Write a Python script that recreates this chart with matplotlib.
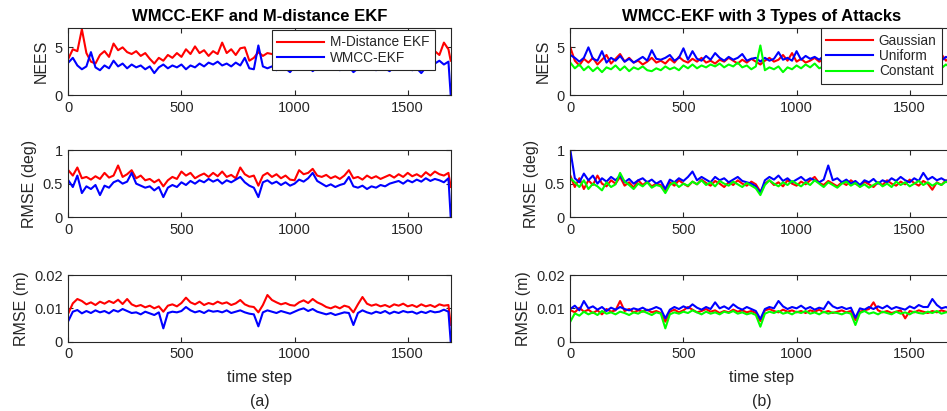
import numpy as np
import matplotlib
matplotlib.use("Agg")
import matplotlib.pyplot as plt

plt.rcParams["font.family"] = ["Liberation Sans", "DejaVu Sans"]

# time steps of the sampled values (every 20 steps, last sample at 1690)
steps = np.append(np.arange(0, 1681, 20), 1690)

# ---- (a) WMCC-EKF vs M-distance EKF ----
nees_md = [3.8, 4.8, 4.6, 6.9, 4.4, 3.5, 3.3, 4.2, 4.6, 4.0,
           5.4, 4.7, 5.0, 4.5, 4.3, 4.6, 4.1, 4.4, 3.8, 3.3,
           3.9, 3.6, 4.2, 3.9, 4.4, 4.0, 4.8, 4.3, 5.1, 4.4,
           4.7, 4.1, 4.6, 4.3, 5.5, 4.4, 4.8, 4.2, 4.9, 5.0,
           3.6, 3.9, 4.5, 4.1, 4.4, 4.3, 4.0, 4.5, 4.2, 4.4,
           3.9, 4.6, 4.2, 4.3, 4.0, 4.5, 4.1, 4.4, 4.2, 4.6,
           4.0, 4.3, 4.5, 4.1, 4.4, 4.2, 4.0, 4.6, 4.3, 4.1,
           4.4, 4.2, 4.5, 4.0, 4.3, 4.4, 4.1, 4.5, 4.2, 4.3,
           4.0, 4.6, 4.2, 5.5, 4.8, 3.6]
nees_wm = [3.4, 3.9, 3.1, 2.7, 3.0, 4.5, 2.9, 2.6, 3.1, 2.8,
           3.6, 3.0, 3.3, 2.8, 3.2, 2.9, 3.1, 2.7, 3.0, 2.3,
           2.9, 3.2, 2.8, 3.1, 2.9, 3.2, 2.7, 3.1, 2.9, 3.3,
           3.0, 3.4, 3.2, 3.5, 3.1, 3.3, 3.0, 3.4, 3.1, 3.9,
           2.8, 2.7, 5.2, 3.0, 2.8, 3.0, 2.6, 3.1, 2.8, 2.4,
           3.0, 2.9, 2.7, 3.1, 2.5, 2.9, 3.0, 2.7, 2.8, 3.1,
           2.6, 2.9, 3.0, 2.4, 2.8, 3.1, 2.7, 2.9, 2.6, 3.0,
           2.8, 2.5, 3.0, 2.9, 2.7, 3.1, 2.6, 2.8, 2.3, 2.9,
           3.0, 3.3, 3.6, 3.2, 3.5, 0.0]
deg_md = [0.70, 0.62, 0.74, 0.58, 0.60, 0.56, 0.61, 0.57, 0.66, 0.59,
          0.62, 0.77, 0.60, 0.64, 0.70, 0.58, 0.62, 0.55, 0.57, 0.52,
          0.56, 0.46, 0.55, 0.60, 0.57, 0.68, 0.62, 0.66, 0.58, 0.62,
          0.65, 0.60, 0.66, 0.61, 0.68, 0.60, 0.63, 0.58, 0.74, 0.64,
          0.60, 0.62, 0.47, 0.62, 0.66, 0.60, 0.64, 0.58, 0.62, 0.56,
          0.55, 0.70, 0.64, 0.66, 0.72, 0.62, 0.60, 0.63, 0.58, 0.61,
          0.57, 0.62, 0.70, 0.58, 0.60, 0.56, 0.62, 0.58, 0.61, 0.57,
          0.60, 0.63, 0.59, 0.64, 0.60, 0.66, 0.61, 0.64, 0.60, 0.67,
          0.62, 0.68, 0.64, 0.62, 0.66, 0.45]
deg_wm = [0.55, 0.45, 0.62, 0.36, 0.46, 0.42, 0.48, 0.33, 0.47, 0.44,
          0.52, 0.55, 0.50, 0.53, 0.66, 0.50, 0.47, 0.44, 0.46, 0.40,
          0.45, 0.30, 0.44, 0.48, 0.45, 0.52, 0.48, 0.54, 0.50, 0.55,
          0.52, 0.57, 0.53, 0.56, 0.50, 0.55, 0.52, 0.56, 0.60, 0.52,
          0.47, 0.44, 0.30, 0.52, 0.55, 0.50, 0.53, 0.48, 0.52, 0.47,
          0.50, 0.56, 0.53, 0.58, 0.66, 0.54, 0.50, 0.46, 0.49, 0.45,
          0.48, 0.50, 0.60, 0.46, 0.44, 0.47, 0.42, 0.46, 0.44, 0.48,
          0.46, 0.50, 0.52, 0.54, 0.50, 0.55, 0.52, 0.56, 0.53, 0.58,
          0.54, 0.57, 0.55, 0.52, 0.58, 0.0]
m_md = [0.0085, 0.0115, 0.0128, 0.0122, 0.0112, 0.0118, 0.0110, 0.0120, 0.0114, 0.0122,
        0.0116, 0.0126, 0.0113, 0.0128, 0.0112, 0.0106, 0.0110, 0.0103, 0.0108, 0.0100,
        0.0106, 0.0090, 0.0108, 0.0112, 0.0106, 0.0116, 0.0132, 0.0118, 0.0112, 0.0120,
        0.0110, 0.0116, 0.0112, 0.0120, 0.0114, 0.0118, 0.0110, 0.0115, 0.0125, 0.0112,
        0.0106, 0.0104, 0.0088, 0.0110, 0.0140, 0.0125, 0.0118, 0.0112, 0.0116, 0.0110,
        0.0108, 0.0118, 0.0124, 0.0116, 0.0128, 0.0118, 0.0112, 0.0104, 0.0100, 0.0106,
        0.0100, 0.0108, 0.0104, 0.0088, 0.0112, 0.0134, 0.0114, 0.0108, 0.0112, 0.0106,
        0.0110, 0.0104, 0.0112, 0.0108, 0.0114, 0.0106, 0.0110, 0.0104, 0.0112, 0.0106,
        0.0110, 0.0104, 0.0112, 0.0108, 0.0110, 0.0050]
m_wm = [0.0062, 0.0090, 0.0095, 0.0085, 0.0092, 0.0086, 0.0094, 0.0088, 0.0092, 0.0085,
        0.0095, 0.0090, 0.0098, 0.0092, 0.0086, 0.0088, 0.0082, 0.0090, 0.0085, 0.0080,
        0.0088, 0.0040, 0.0086, 0.0090, 0.0088, 0.0092, 0.0104, 0.0094, 0.0088, 0.0092,
        0.0086, 0.0094, 0.0090, 0.0092, 0.0088, 0.0094, 0.0086, 0.0090, 0.0094, 0.0088,
        0.0084, 0.0082, 0.0046, 0.0088, 0.0094, 0.0090, 0.0086, 0.0092, 0.0088, 0.0084,
        0.0090, 0.0096, 0.0100, 0.0092, 0.0098, 0.0090, 0.0086, 0.0082, 0.0086, 0.0080,
        0.0084, 0.0088, 0.0086, 0.0050, 0.0086, 0.0094, 0.0088, 0.0084, 0.0090, 0.0086,
        0.0092, 0.0084, 0.0090, 0.0086, 0.0092, 0.0088, 0.0090, 0.0084, 0.0090, 0.0086,
        0.0092, 0.0088, 0.0090, 0.0096, 0.0090, 0.0]

# ---- (b) WMCC-EKF with 3 types of attacks ----
nees_gauss = [5.0, 3.6, 3.1, 3.8, 3.4, 3.9, 3.2, 3.7, 4.2, 3.3,
              3.8, 4.3, 3.5, 3.9, 3.4, 3.6, 3.2, 3.5, 3.9, 3.4,
              3.6, 3.3, 3.8, 3.4, 4.0, 3.6, 3.4, 3.8, 3.5, 3.9,
              3.4, 3.6, 3.3, 3.7, 3.5, 3.9, 3.6, 3.3, 3.7, 3.4,
              3.8, 3.5, 3.2, 3.6, 3.9, 3.5, 3.7, 4.2, 3.6, 4.4,
              3.5, 3.8, 3.4, 3.6, 3.9, 3.5, 3.7, 3.4, 3.8, 3.6,
              3.5, 3.9, 3.6, 3.4, 3.7, 3.5, 3.8, 3.6, 3.4, 3.7,
              3.5, 3.8, 3.6, 3.3, 3.7, 3.5, 3.9, 3.6, 3.4, 3.7,
              3.5, 3.8, 4.3, 3.6, 3.9, 3.5]
nees_unif = [4.2, 3.9, 3.5, 3.9, 5.0, 3.8, 3.6, 4.6, 3.4, 3.9,
             3.6, 4.1, 3.5, 3.8, 3.4, 3.7, 4.0, 3.6, 4.7, 3.8,
             3.7, 3.9, 4.2, 3.6, 3.9, 4.9, 3.7, 4.6, 3.8, 3.6,
             4.1, 3.7, 4.4, 3.9, 3.6, 4.0, 3.7, 3.9, 4.3, 3.6,
             3.8, 3.9, 3.5, 3.9, 3.6, 3.8, 4.5, 3.7, 3.9, 3.6,
             4.6, 3.7, 4.1, 3.8, 4.0, 3.7, 4.1, 3.8, 3.6, 4.0,
             3.8, 4.1, 3.7, 3.9, 3.6, 4.0, 3.8, 4.2, 3.7, 3.9,
             3.6, 4.0, 3.8, 4.1, 3.7, 3.9, 3.6, 4.0, 3.8, 4.1,
             3.7, 3.9, 3.6, 4.0, 3.8, 3.7]
nees_const = [3.4, 2.8, 3.2, 2.6, 3.0, 2.5, 2.9, 2.4, 2.9, 2.7,
              3.1, 2.6, 3.0, 2.5, 2.9, 2.7, 3.0, 2.6, 2.5, 2.8,
              2.6, 3.0, 2.7, 2.9, 2.6, 3.1, 2.8, 3.2, 2.8, 3.1,
              2.9, 3.2, 3.0, 3.3, 2.9, 3.2, 3.0, 3.4, 2.9, 3.1,
              2.7, 3.0, 5.2, 2.6, 2.9, 2.7, 3.0, 2.4, 2.9, 2.7,
              3.1, 2.8, 3.2, 2.9, 3.3, 2.8, 3.0, 2.7, 3.1, 2.9,
              3.0, 2.7, 3.1, 2.8, 3.0, 2.6, 2.9, 3.2, 2.8, 3.0,
              2.7, 3.1, 2.9, 2.6, 3.0, 2.8, 3.1, 2.7, 2.9, 3.0,
              2.8, 3.0, 2.8, 3.2, 2.9, 3.0]
deg_gauss = [0.62, 0.45, 0.58, 0.42, 0.55, 0.48, 0.62, 0.50, 0.46, 0.55,
             0.50, 0.60, 0.47, 0.52, 0.44, 0.55, 0.48, 0.53, 0.46, 0.50,
             0.48, 0.40, 0.52, 0.47, 0.55, 0.50, 0.46, 0.53, 0.49, 0.56,
             0.51, 0.47, 0.54, 0.50, 0.45, 0.52, 0.48, 0.55, 0.50, 0.47,
             0.53, 0.49, 0.38, 0.50, 0.55, 0.48, 0.52, 0.46, 0.55, 0.50,
             0.47, 0.53, 0.49, 0.55, 0.60, 0.51, 0.48, 0.54, 0.50, 0.46,
             0.52, 0.48, 0.55, 0.50, 0.46, 0.53, 0.49, 0.45, 0.52, 0.48,
             0.55, 0.50, 0.47, 0.53, 0.49, 0.56, 0.51, 0.47, 0.54, 0.50,
             0.41, 0.52, 0.48, 0.55, 0.50, 0.48]
deg_unif = [1.00, 0.58, 0.52, 0.65, 0.55, 0.62, 0.50, 0.58, 0.53, 0.60,
            0.55, 0.62, 0.52, 0.57, 0.50, 0.55, 0.58, 0.52, 0.56, 0.50,
            0.54, 0.42, 0.56, 0.52, 0.58, 0.54, 0.60, 0.68, 0.55, 0.60,
            0.56, 0.52, 0.60, 0.55, 0.58, 0.52, 0.56, 0.60, 0.54, 0.52,
            0.50, 0.46, 0.36, 0.55, 0.60, 0.56, 0.62, 0.54, 0.58, 0.52,
            0.56, 0.60, 0.54, 0.58, 0.55, 0.52, 0.56, 0.77, 0.55, 0.58,
            0.52, 0.56, 0.50, 0.54, 0.48, 0.55, 0.52, 0.57, 0.50, 0.55,
            0.52, 0.58, 0.54, 0.60, 0.55, 0.52, 0.58, 0.54, 0.66, 0.56,
            0.60, 0.55, 0.58, 0.54, 0.57, 0.55]
deg_const = [0.58, 0.52, 0.45, 0.55, 0.42, 0.50, 0.46, 0.40, 0.52, 0.45,
             0.49, 0.66, 0.53, 0.48, 0.42, 0.50, 0.46, 0.52, 0.44, 0.48,
             0.46, 0.36, 0.48, 0.52, 0.45, 0.50, 0.47, 0.53, 0.49, 0.55,
             0.48, 0.52, 0.46, 0.54, 0.50, 0.47, 0.53, 0.49, 0.45, 0.51,
             0.47, 0.43, 0.33, 0.48, 0.55, 0.50, 0.46, 0.52, 0.48, 0.54,
             0.50, 0.46, 0.52, 0.48, 0.55, 0.50, 0.45, 0.52, 0.48, 0.44,
             0.50, 0.53, 0.47, 0.51, 0.45, 0.49, 0.44, 0.48, 0.52, 0.46,
             0.50, 0.45, 0.53, 0.48, 0.52, 0.46, 0.50, 0.54, 0.48, 0.52,
             0.47, 0.51, 0.48, 0.53, 0.50, 0.49]
m_gauss = [0.0095, 0.0088, 0.0102, 0.0090, 0.0096, 0.0086, 0.0094, 0.0082, 0.0098, 0.0090,
           0.0094, 0.0122, 0.0092, 0.0098, 0.0088, 0.0094, 0.0090, 0.0096, 0.0088, 0.0092,
           0.0086, 0.0060, 0.0090, 0.0096, 0.0088, 0.0094, 0.0104, 0.0096, 0.0088, 0.0092,
           0.0098, 0.0090, 0.0094, 0.0086, 0.0092, 0.0088, 0.0096, 0.0090, 0.0094, 0.0088,
           0.0092, 0.0086, 0.0062, 0.0094, 0.0098, 0.0092, 0.0088, 0.0096, 0.0090, 0.0094,
           0.0088, 0.0092, 0.0086, 0.0094, 0.0090, 0.0096, 0.0088, 0.0092, 0.0086, 0.0090,
           0.0094, 0.0088, 0.0092, 0.0065, 0.0090, 0.0094, 0.0098, 0.0118, 0.0094, 0.0088,
           0.0092, 0.0086, 0.0090, 0.0094, 0.0070, 0.0092, 0.0088, 0.0094, 0.0090, 0.0086,
           0.0092, 0.0088, 0.0094, 0.0090, 0.0086, 0.0090]
m_unif = [0.0098, 0.0108, 0.0094, 0.0122, 0.0100, 0.0106, 0.0096, 0.0104, 0.0092, 0.0102,
          0.0096, 0.0104, 0.0098, 0.0094, 0.0100, 0.0096, 0.0102, 0.0094, 0.0098, 0.0104,
          0.0098, 0.0070, 0.0096, 0.0104, 0.0098, 0.0106, 0.0100, 0.0112, 0.0102, 0.0096,
          0.0104, 0.0098, 0.0118, 0.0100, 0.0106, 0.0098, 0.0112, 0.0102, 0.0096, 0.0104,
          0.0098, 0.0092, 0.0068, 0.0098, 0.0104, 0.0100, 0.0122, 0.0106, 0.0098, 0.0104,
          0.0100, 0.0108, 0.0098, 0.0104, 0.0096, 0.0102, 0.0098, 0.0120, 0.0106, 0.0100,
          0.0104, 0.0098, 0.0102, 0.0072, 0.0100, 0.0096, 0.0104, 0.0098, 0.0106, 0.0100,
          0.0108, 0.0098, 0.0104, 0.0100, 0.0096, 0.0106, 0.0100, 0.0110, 0.0104, 0.0104,
          0.0128, 0.0110, 0.0100, 0.0104, 0.0098, 0.0100]
m_const = [0.0060, 0.0085, 0.0078, 0.0090, 0.0082, 0.0088, 0.0080, 0.0092, 0.0084, 0.0088,
           0.0082, 0.0090, 0.0086, 0.0080, 0.0088, 0.0084, 0.0092, 0.0086, 0.0080, 0.0088,
           0.0084, 0.0040, 0.0082, 0.0088, 0.0084, 0.0090, 0.0086, 0.0094, 0.0088, 0.0082,
           0.0090, 0.0084, 0.0088, 0.0082, 0.0090, 0.0086, 0.0092, 0.0084, 0.0088, 0.0082,
           0.0086, 0.0080, 0.0045, 0.0084, 0.0090, 0.0086, 0.0092, 0.0084, 0.0088, 0.0082,
           0.0090, 0.0086, 0.0092, 0.0084, 0.0088, 0.0082, 0.0090, 0.0084, 0.0088, 0.0086,
           0.0082, 0.0088, 0.0084, 0.0050, 0.0086, 0.0092, 0.0084, 0.0088, 0.0082, 0.0090,
           0.0086, 0.0082, 0.0090, 0.0084, 0.0088, 0.0082, 0.0090, 0.0086, 0.0084, 0.0090,
           0.0086, 0.0092, 0.0084, 0.0088, 0.0090, 0.0086]

titles = ["WMCC-EKF and M-distance EKF", "WMCC-EKF with 3 Types of Attacks"]
names_a = ["M-Distance EKF", "WMCC-EKF"]
names_b = ["Gaussian", "Uniform", "Constant"]
ylabels = ["NEES", "RMSE (deg)", "RMSE (m)"]
yticks = [[0, 5], [0, 0.5, 1], [0, 0.01, 0.02]]
yticklabels = [["0", "5"], ["0", "0.5", "1"], ["0", "0.01", "0.02"]]
ylims = [(0, 7), (0, 1), (0, 0.02)]
xticks = [0, 500, 1000, 1500]
captions = ["(a)", "(b)"]

DARK = "#262626"
W, H = 947, 411
fig = plt.figure(figsize=(W / 100, H / 100), dpi=100)

col_x = [68.3, 570.3]
ax_w = 382.4
rows = [(28.3, 95.0), (150.0, 217.3), (275.0, 341.7)]

data = [
    [[nees_md, nees_wm], [deg_md, deg_wm], [m_md, m_wm]],
    [[nees_gauss, nees_unif, nees_const], [deg_gauss, deg_unif, deg_const],
     [m_gauss, m_unif, m_const]],
]
colors = [["#ff0000", "#0000ff"], ["#ff0000", "#0000ff", "#00ff00"]]

for c in range(2):
    for r in range(3):
        top, bot = rows[r]
        ax = fig.add_axes([col_x[c] / W, 1 - bot / H, ax_w / W, (bot - top) / H])
        lines = []
        for s, col in zip(data[c][r], colors[c]):
            ln, = ax.plot(steps, s, color=col, lw=1.5)
            lines.append(ln)
        ax.set_xlim(0, 1690)
        ax.set_ylim(*ylims[r])
        ax.set_xticks(xticks)
        ax.set_xticklabels([str(t) for t in xticks])
        ax.set_yticks(yticks[r])
        ax.set_yticklabels(yticklabels[r])
        ax.tick_params(direction="in", length=3.5, width=0.8, top=True, right=True,
                       labelsize=10.5, colors=DARK, pad=4)
        for sp in ax.spines.values():
            sp.set_color(DARK)
            sp.set_linewidth(0.8)
        ax.set_ylabel(ylabels[r], fontsize=11.5, color=DARK, labelpad=4)
        if r == 0:
            ax.set_title(titles[c], fontsize=12, fontweight="bold", pad=5)
            names = names_a if c == 0 else names_b
            anchor = (0.958, 0.975) if c == 0 else (0.972, 1.0)
            leg = ax.legend(lines, names, loc="upper right", bbox_to_anchor=anchor,
                            borderaxespad=0, fancybox=False, framealpha=1,
                            edgecolor=DARK, fontsize=9.8, handlelength=3.4,
                            handletextpad=0.45, borderpad=0.4, labelspacing=0.1)
            leg.get_frame().set_linewidth(0.8)
            for t in leg.get_texts():
                t.set_color(DARK)
        if r == 2:
            ax.set_xlabel("time step", fontsize=11.5, color=DARK, labelpad=6)
            fig.text((col_x[c] + ax_w / 2) / W, 1 - 401 / H, captions[c],
                     ha="center", va="center", fontsize=11.5, color=DARK)

fig.savefig("out.png", dpi=100)
